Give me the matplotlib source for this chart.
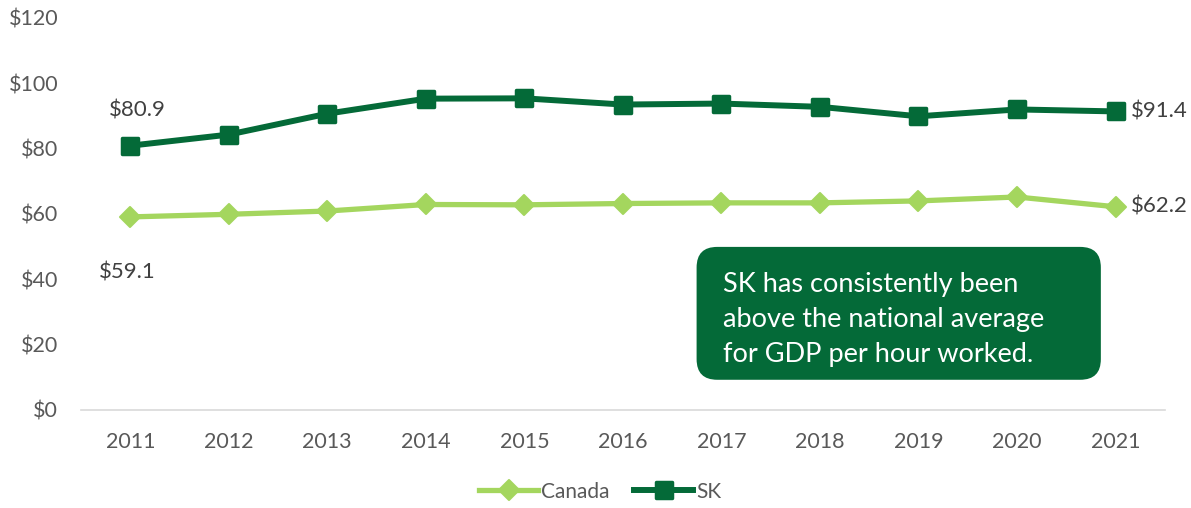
import matplotlib
matplotlib.use("Agg")
import matplotlib.pyplot as plt
from matplotlib.patches import FancyBboxPatch
from matplotlib.markers import MarkerStyle

years = ["2011", "2012", "2013", "2014", "2015", "2016", "2017", "2018", "2019", "2020", "2021"]
canada = [59.1, 59.9, 60.9, 62.9, 62.8, 63.2, 63.4, 63.4, 64.0, 65.2, 62.2]
sk = [80.9, 84.3, 90.7, 95.3, 95.4, 93.5, 93.8, 92.8, 89.9, 92.0, 91.4]
yticks = [0, 20, 40, 60, 80, 100, 120]
ytick_labels = ["$0", "$20", "$40", "$60", "$80", "$100", "$120"]
note = "SK has consistently been\nabove the national average\nfor GDP per hour worked."

DARK = "#046A38"
LIGHT = "#A4D65E"
TXT = "#595959"
LBL = "#404040"
FONT = ["Lato", "DejaVu Sans"]
plt.rcParams["font.family"] = FONT

fig = plt.figure(figsize=(11.91, 5.08), dpi=100)
ax = fig.add_axes([0.068, 0.193, 0.910, 0.7716])
x = list(range(len(years)))

ax.plot(x, canada, color=LIGHT, lw=3.8, marker=MarkerStyle("D", joinstyle="round"),
        markersize=10.5, markerfacecolor=LIGHT, markeredgecolor=LIGHT, markeredgewidth=1.5,
        solid_joinstyle="round", label="Canada", zorder=3)
ax.plot(x, sk, color=DARK, lw=4.3, marker=MarkerStyle("s", joinstyle="round"),
        markersize=12, markerfacecolor=DARK, markeredgecolor=DARK, markeredgewidth=2.5,
        solid_joinstyle="round", label="SK", zorder=3)

ax.set_xlim(-0.5, len(years) - 0.5)
ax.set_ylim(0, 120)
ax.set_xticks(x)
ax.set_xticklabels(years)
ax.set_yticks(yticks)
ax.set_yticklabels(ytick_labels)
ax.tick_params(axis="both", length=0, labelsize=15.5, colors=TXT)
ax.tick_params(axis="x", pad=16)
ax.tick_params(axis="y", pad=16.5)
for s in ["top", "right", "left"]:
    ax.spines[s].set_visible(False)
ax.spines["bottom"].set_color("#D9D9D9")
ax.spines["bottom"].set_linewidth(1.2)

# data labels
LS = 16
ax.annotate(f"${sk[0]:.1f}", (x[0], sk[0]), xytext=(5, 25.5), textcoords="offset points",
            ha="center", va="center", fontsize=LS, color=LBL)
ax.annotate(f"${canada[0]:.1f}", (x[0], canada[0]), xytext=(-2, -40), textcoords="offset points",
            ha="center", va="center", fontsize=LS, color=LBL)
ax.annotate(f"${sk[-1]:.1f}", (x[-1], sk[-1]), xytext=(11, 0), textcoords="offset points",
            ha="left", va="center", fontsize=LS, color=LBL)
ax.annotate(f"${canada[-1]:.1f}", (x[-1], canada[-1]), xytext=(11, 0), textcoords="offset points",
            ha="left", va="center", fontsize=LS, color=LBL)

# note box
aspect = (0.910 * 1191) / (0.7716 * 508)
box = FancyBboxPatch((0.568, 0.077), 0.373, 0.339, transform=ax.transAxes,
                     boxstyle="round,pad=0,rounding_size=0.019", mutation_aspect=aspect,
                     facecolor=DARK, edgecolor="none", zorder=4, clip_on=False)
ax.add_patch(box)
ax.text(0.592, 0.232, note, transform=ax.transAxes, ha="left", va="center",
        fontsize=19.5, color="white", linespacing=1.5, zorder=5)

fig.legend(loc="center", bbox_to_anchor=(0.504, 0.032), ncol=2, frameon=False,
           fontsize=15, handlelength=2.8, handletextpad=0.15, columnspacing=1.2,
           labelcolor=TXT)

fig.savefig("out.png", dpi=100)
